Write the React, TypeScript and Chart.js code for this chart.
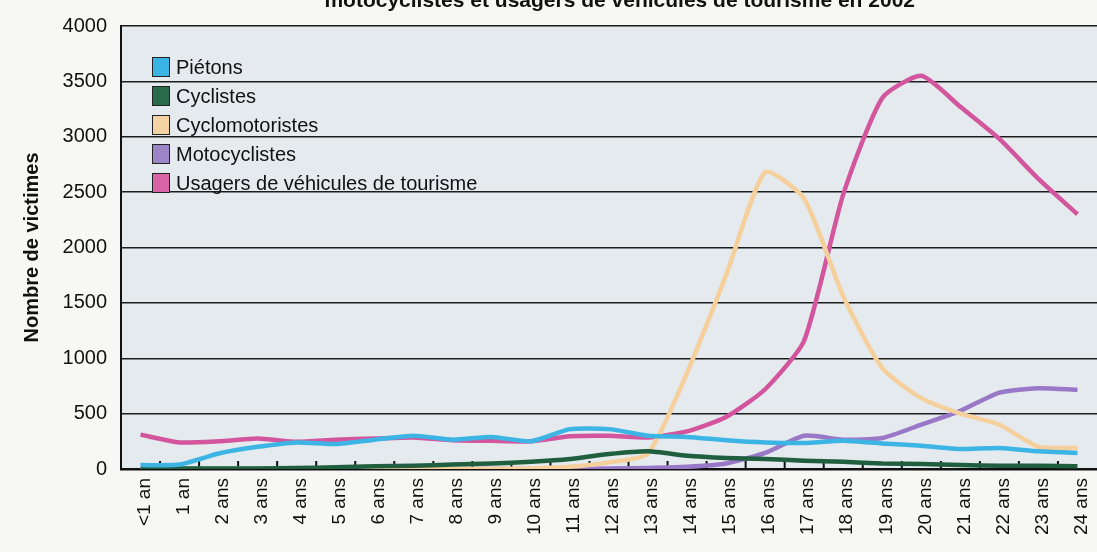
import React, { useEffect, useRef } from 'react';
import { Chart, registerables } from 'chart.js';

Chart.register(...registerables);

const ageLabels = [
  '<1 an', '1 an', '2 ans', '3 ans', '4 ans', '5 ans', '6 ans', '7 ans', '8 ans', '9 ans',
  '10 ans', '11 ans', '12 ans', '13 ans', '14 ans', '15 ans', '16 ans', '17 ans', '18 ans',
  '19 ans', '20 ans', '21 ans', '22 ans', '23 ans', '24 ans',
];

const pietons = [35, 40, 140, 200, 240, 225, 265, 300, 265, 290, 250, 360, 360, 300, 290, 260, 240, 235, 255, 230, 210, 180, 190, 160, 145];
const cyclistes = [5, 5, 5, 5, 10, 15, 25, 30, 40, 50, 65, 90, 135, 160, 120, 100, 90, 75, 65, 50, 45, 35, 30, 30, 25];
const cyclomotoristes = [0, 0, 0, 0, 0, 0, 0, 0, 0, 0, 5, 20, 60, 140, 870, 1750, 2680, 2440, 1560, 910, 640, 500, 400, 200, 190];
const motocyclistes = [0, 0, 0, 0, 0, 0, 0, 0, 0, 0, 0, 0, 5, 10, 20, 50, 145, 300, 265, 280, 400, 525, 690, 730, 715];
const tourisme = [310, 240, 250, 275, 245, 265, 275, 285, 260, 255, 250, 295, 300, 285, 340, 470, 720, 1160, 2480, 3350, 3550, 3270, 2980, 2620, 2300];

const yTicks = [0, 500, 1000, 1500, 2000, 2500, 3000, 3500, 4000];

const FONT = "'Liberation Sans', Arial, Helvetica, sans-serif";

export default function App() {
  const ref = useRef<HTMLCanvasElement | null>(null);

  useEffect(() => {
    document.body.style.margin = '0';
    document.body.style.background = '#f7f7f5';
    const canvas = ref.current;
    if (!canvas) return;

    const pageBg = {
      id: 'pageBg',
      beforeDraw(chart: any) {
        const c = chart.ctx;
        c.save();
        c.fillStyle = '#f7f7f5';
        c.fillRect(0, 0, chart.width, chart.height);
        const { left, top, right, bottom } = chart.chartArea;
        c.fillStyle = '#e4eaed';
        c.fillRect(left, top, right - left, bottom - top);
        c.restore();
      },
    };

    const innerTicks = {
      id: 'innerTicks',
      beforeDatasetsDraw(chart: any) {
        const c = chart.ctx;
        const xs = chart.scales.x;
        const bottom = chart.chartArea.bottom;
        c.save();
        c.strokeStyle = '#111';
        c.lineWidth = 2;
        for (let i = 0; i < ageLabels.length - 1; i++) {
          const px = (xs.getPixelForValue(i) + xs.getPixelForValue(i + 1)) / 2;
          c.beginPath();
          c.moveTo(px, bottom);
          c.lineTo(px, bottom - 8);
          c.stroke();
        }
        c.restore();
      },
    };

    const topTitle = {
      id: 'topTitle',
      afterDraw(chart: any) {
        const c = chart.ctx;
        c.save();
        c.fillStyle = '#111';
        c.font = `bold 21px ${FONT}`;
        c.textAlign = 'right';
        c.textBaseline = 'alphabetic';
        c.fillText('motocyclistes et usagers de véhicules de tourisme en 2002', 915, 7);
        c.restore();
      },
    };

    const innerLegend = {
      id: 'innerLegend',
      afterDraw(chart: any) {
        const c = chart.ctx;
        const left = chart.chartArea.left;
        const top = chart.chartArea.top;
        c.save();
        c.font = `20px ${FONT}`;
        c.textBaseline = 'middle';
        c.textAlign = 'left';
        chart.data.datasets.forEach((ds: any, i: number) => {
          const cy = top + 41 + i * 29;
          const bx = left + 31;
          c.fillStyle = ds.backgroundColor;
          c.fillRect(bx, cy - 10, 18, 20);
          c.strokeStyle = '#222';
          c.lineWidth = 1;
          c.strokeRect(bx + 0.5, cy - 9.5, 17, 19);
          c.fillStyle = '#111';
          c.fillText(ds.label, bx + 24, cy + 1);
        });
        c.restore();
      },
    };

    const mk = (label: string, data: number[], line: string, box: string) => ({
      label,
      data,
      borderColor: line,
      backgroundColor: box,
      borderWidth: 4.5,
      pointRadius: 0,
      fill: false,
      tension: 0.2,
    });

    const chart = new Chart(canvas, {
      type: 'line',
      data: {
        labels: ageLabels,
        datasets: [
          mk('Piétons', pietons, '#3cb4e4', '#3ab3e5'),
          mk('Cyclistes', cyclistes, '#1f5e3e', '#2a6b4a'),
          mk('Cyclomotoristes', cyclomotoristes, '#f5cf9c', '#f3d3a3'),
          mk('Motocyclistes', motocyclistes, '#9a78c8', '#9c84c6'),
          mk('Usagers de véhicules de tourisme', tourisme, '#d2559e', '#d765a5'),
        ],
      },
      options: {
        responsive: false,
        animation: false,
        layout: { padding: { top: 19, left: 0, right: 0, bottom: 0 } },
        plugins: {
          legend: { display: false },
          tooltip: { enabled: false },
          title: { display: false },
        },
        scales: {
          x: {
            offset: true,
            grid: { drawOnChartArea: false, drawTicks: false },
            border: { display: true, color: '#111', width: 2.5 },
            ticks: {
              autoSkip: false,
              minRotation: 90,
              maxRotation: 90,
              padding: 9,
              labelOffset: 4,
              color: '#111',
              font: { family: FONT, size: 19 },
            },
            afterFit: (s: any) => {
              s.height = 83;
              s.paddingLeft = 0;
              s.paddingRight = 0;
            },
          },
          y: {
            min: 0,
            max: 4000,
            afterBuildTicks: (s: any) => { s.ticks = yTicks.map((v) => ({ value: v })); },
            grid: { color: '#1c1c1c', lineWidth: 1.5, drawTicks: false },
            border: { display: true, color: '#111', width: 2 },
            ticks: {
              padding: 14,
              color: '#111',
              font: { family: FONT, size: 20 },
              callback: (v: any) => String(v),
            },
            title: {
              display: true,
              text: 'Nombre de victimes',
              color: '#111',
              font: { family: FONT, size: 20, weight: 'bold' },
              padding: { top: 20, bottom: 0 },
            },
            afterFit: (s: any) => { s.width = 121; },
          },
        },
      },
      plugins: [pageBg, innerTicks, innerLegend, topTitle],
    });

    return () => chart.destroy();
  }, []);

  return (
    <div style={{ width: 1097, height: 552 }}>
      <canvas ref={ref} width={1097} height={552} style={{ display: 'block' }} />
    </div>
  );
}
